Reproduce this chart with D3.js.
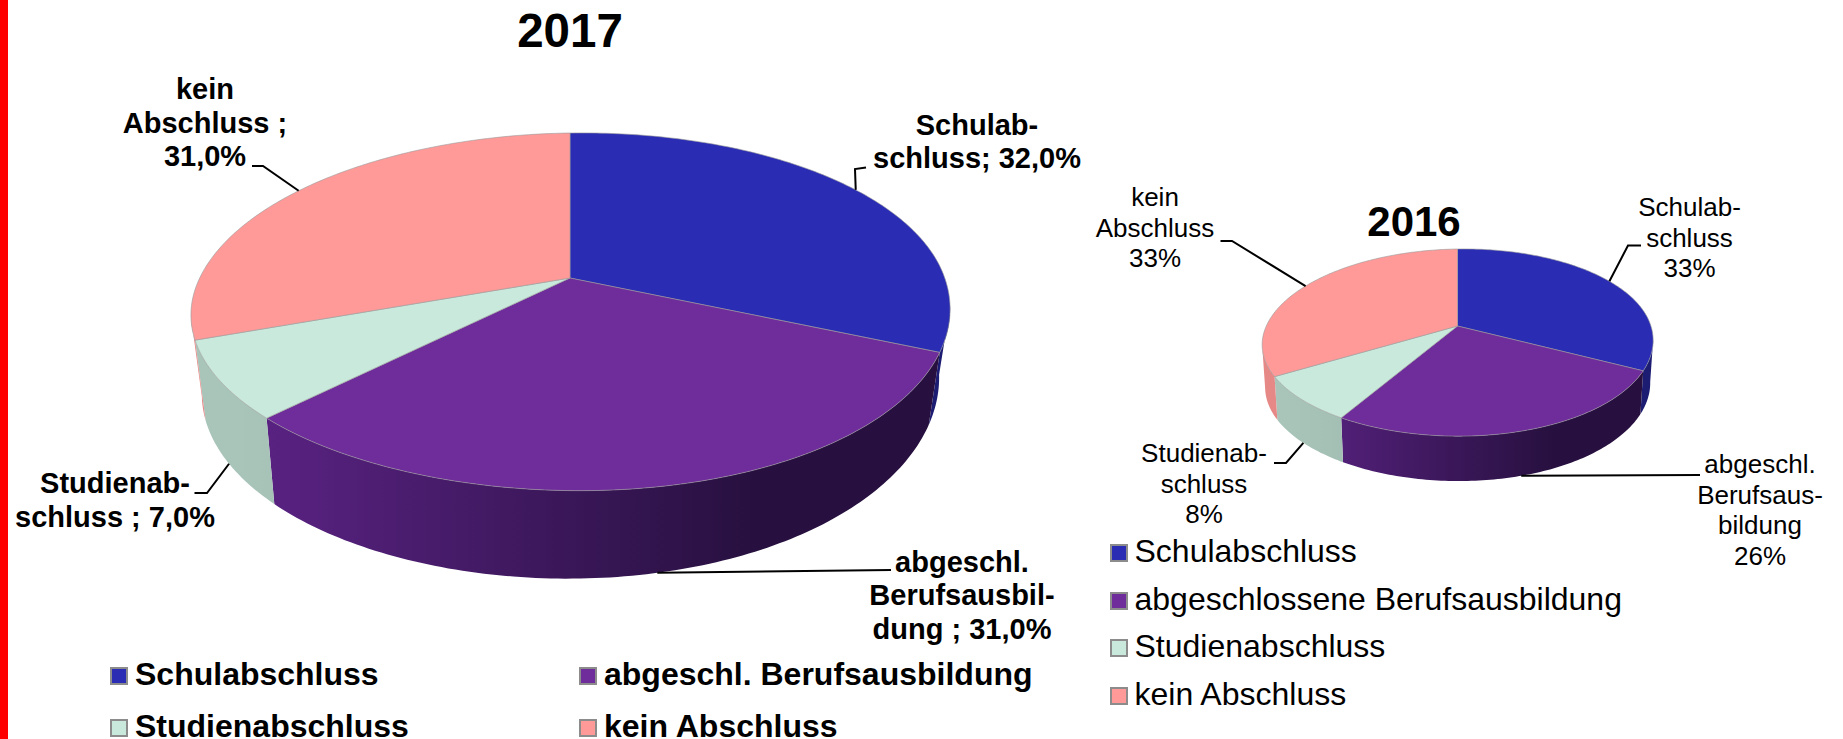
<!DOCTYPE html>
<html>
  <head>
    <title>Abschluss 2017 / 2016</title>
    <style>
      html, body { margin: 0; background: #fff; }
      svg { display: block; }
      text { font-family: "Liberation Sans", Arial, sans-serif; fill: #000; }
    </style>
  </head>
  <body>
    <svg id="chart" width="1843" height="739"></svg>
    <script src="https://cdn.jsdelivr.net/npm/d3@7/dist/d3.min.js"></script>
    <script>
      // data
      const values2017 = [32, 31, 7, 31];
      const values2016 = [33, 26, 8, 33];
      const legend2017 = ["Schulabschluss", "abgeschl. Berufsausbildung", "Studienabschluss", "kein Abschluss"];
      const legend2016 = ["Schulabschluss", "abgeschlossene Berufsausbildung", "Studienabschluss", "kein Abschluss"];
      const labels2017 = [
        ["Schulab-", "schluss; 32,0%"],
        ["abgeschl.", "Berufsausbil-", "dung ; 31,0%"],
        ["Studienab-", "schluss ; 7,0%"],
        ["kein", "Abschluss ;", "31,0%"]
      ];
      const labels2016 = [
        ["Schulab-", "schluss", "33%"],
        ["abgeschl.", "Berufsaus-", "bildung", "26%"],
        ["Studienab-", "schluss", "8%"],
        ["kein", "Abschluss", "33%"]
      ];

      const topColors = ["#2a2db3", "#6f2c9b", "#c9e9dc", "#ff9a98"];
      const sideLeft = ["#2a2db3", "#5c2386", "#a9c5ba", "#e58886"];
      const sideRight = ["#1b1c72", "#27103f", "#8fa89e", "#c46f6d"];

      const svg = d3.select("#chart");
      const defs = svg.append("defs");

      // the 2017 labels add up to 101 %, the slices are still percent of a full circle
      const angle = d3.scaleLinear().domain([0, 100]).range([0, 2 * Math.PI]).clamp(true);

      svg.append("rect").attr("x", 0).attr("y", 0).attr("width", 8).attr("height", 739).attr("fill", "#ff0000");

      // the disc is tilted in perspective, so the apex is not the middle of the ellipse
      function projector(p) {
        return function (t, rim) {
          const x = Math.sin(t), z = -Math.cos(t);
          const w = 1 - p.k * z;
          const zw = z / w, xw = x / w;
          const bend = Math.pow(Math.max(0, zw), 2);
          if (rim === "bottom") {
            return [p.cx + p.R2 * xw + p.skew2 * bend, p.y2 + p.H2 * zw + p.tilt2 * xw];
          }
          return [p.cx + p.R * xw + p.skew * bend, p.apex + p.H * zw + p.tilt * xw];
        };
      }

      function drawPie(id, values, labels, legend, p) {
        const g = svg.append("g").attr("id", id);
        const project = projector(p);
        const ends = Array.from(d3.cumsum(values));
        const arcs = values.map((v, i) => ({
          startAngle: angle(ends[i] - v),
          endAngle: angle(ends[i])
        }));
        const line = d3.line();

        const rim = (a0, a1, which) => {
          const n = Math.max(2, Math.ceil((a1 - a0) * 60));
          return d3.range(n + 1).map(i => project(a0 + (a1 - a0) * i / n, which));
        };

        // sides
        const visFrom = Math.PI / 2 + Math.asin(p.k), visTo = 3 * Math.PI / 2 - Math.asin(p.k);
        arcs.forEach((d, i) => {
          const a0 = Math.max(d.startAngle, visFrom), a1 = Math.min(d.endAngle, visTo);
          if (a1 <= a0) return;
          const gradId = id + "-side-" + i;
          const grad = defs.append("linearGradient").attr("id", gradId)
            .attr("gradientUnits", "userSpaceOnUse")
            .attr("x1", p.cx - p.R).attr("x2", p.cx + p.R).attr("y1", 0).attr("y2", 0);
          grad.append("stop").attr("offset", 0.05).attr("stop-color", sideLeft[i]);
          grad.append("stop").attr("offset", 0.75).attr("stop-color", sideRight[i]);
          const pts = rim(a0, a1, "top").concat(rim(a0, a1, "bottom").reverse());
          g.append("path").attr("d", line(pts) + "Z").attr("fill", "url(#" + gradId + ")");
        });

        // top faces
        arcs.forEach((d, i) => {
          const pts = [[p.cx, p.apex]].concat(rim(d.startAngle, d.endAngle, "top"));
          g.append("path").attr("d", line(pts) + "Z")
            .attr("fill", topColors[i])
            .attr("stroke", "#9a9a9a").attr("stroke-opacity", 0.6).attr("stroke-width", 1);
        });

        // connectors start on the rim at the middle of each slice
        arcs.forEach((d, i) => {
          const mid = (d.startAngle + d.endAngle) / 2;
          const front = mid > visFrom && mid < visTo;
          const start = project(mid, front ? "bottom" : "top");
          g.append("path")
            .attr("d", line([start].concat(p.leaders[i])))
            .attr("fill", "none").attr("stroke", "#000").attr("stroke-width", p.leaderWidth);
        });

        // labels
        labels.forEach((lines, i) => {
          const pos = p.labelPos[i];
          const text = g.append("text")
            .attr("text-anchor", "middle")
            .attr("font-size", p.labelSize)
            .attr("font-weight", p.weight);
          lines.forEach((s, j) => {
            text.append("tspan").attr("x", pos[0]).attr("y", pos[1] + j * p.labelStep).text(s);
          });
        });

        // title
        g.append("text").attr("x", p.title[0]).attr("y", p.title[1])
          .attr("text-anchor", "middle").attr("font-weight", "bold")
          .attr("font-size", p.titleSize).text(id);

        // legend
        legend.forEach((s, i) => {
          const pos = p.legendPos[i];
          g.append("rect").attr("x", pos[0] + 1).attr("y", pos[1] - 17)
            .attr("width", 16).attr("height", 16)
            .attr("fill", topColors[i]).attr("stroke", "#8c8c8c").attr("stroke-width", 2);
          g.append("text").attr("x", pos[0] + p.legendGap).attr("y", pos[1])
            .attr("font-size", p.legendSize).attr("font-weight", p.weight).text(s);
        });
      }

      drawPie("2017", values2017, labels2017, legend2017, {
        cx: 570, apex: 278, R: 372.7, H: 172.4, k: 0.189, tilt: -5.5, skew: 14,
        R2: 362, H2: 186, y2: 349, tilt2: -10.5, skew2: 12,
        leaders: [
          [[855, 169], [866, 167.5]],
          [[891, 570]],
          [[207, 493], [194.5, 493]],
          [[263, 166], [252, 166]]
        ],
        leaderWidth: 2,
        labelPos: [[977, 134.5], [962, 571.5], [115, 493], [205, 99]],
        labelSize: 29, labelStep: 33.7, weight: "bold",
        title: [570, 47], titleSize: 47.5,
        legendPos: [[110, 685], [579, 685], [110, 737], [579, 737]],
        legendGap: 25, legendSize: 32
      });

      drawPie("2016", values2016, labels2016, legend2016, {
        cx: 1457.5, apex: 326, R: 192.4, H: 90.6, k: 0.177, tilt: -3, skew: 5,
        R2: 189.5, H2: 93, y2: 368, tilt2: -3, skew2: 5,
        leaders: [
          [[1628, 245.5], [1641, 245.5]],
          [[1700, 475]],
          [[1286, 463], [1274, 463]],
          [[1232, 241], [1220.5, 241]]
        ],
        leaderWidth: 2,
        labelPos: [[1689.5, 216], [1760, 473], [1204, 462], [1155, 206]],
        labelSize: 26, labelStep: 30.6, weight: "normal",
        title: [1414, 236], titleSize: 42,
        legendPos: [[1110, 562], [1110, 610], [1110, 657], [1110, 705]],
        legendGap: 24.5, legendSize: 32
      });
    </script>
  </body>
</html>
